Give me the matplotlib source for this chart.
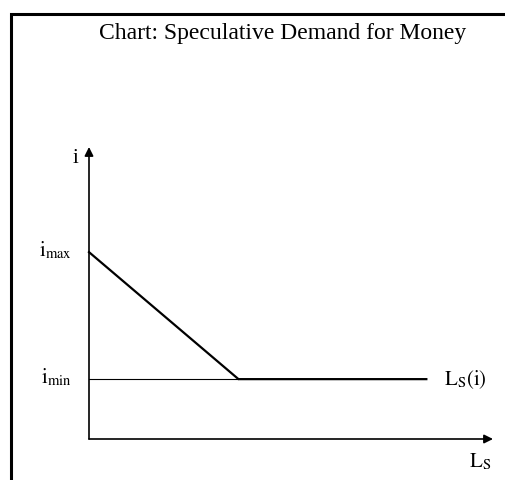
import matplotlib
matplotlib.use("Agg")
import matplotlib.pyplot as plt
from matplotlib.patches import Rectangle

plt.rcParams['font.family'] = ['Liberation Serif', 'DejaVu Serif']
plt.rcParams['mathtext.fontset'] = 'stix'

# speculative demand curve (abstract units, axis runs 0..10)
i_max = 6.4
i_min = 2.05
kink_L = 3.7
end_L = 8.35
curve_L = [0, kink_L, end_L]
curve_i = [i_max, i_min, i_min]
axis_max = 10

title = "Chart: Speculative Demand for Money"

fig = plt.figure(figsize=(5.06, 4.8), dpi=100)
fig.patch.set_facecolor("white")

# outer frame (runs off the right and bottom edges)
fig.patches.append(Rectangle((10.5 / 506, -0.1), 1.2, (480 - 14) / 480 + 0.1,
                             transform=fig.transFigure, fill=False,
                             edgecolor="black", linewidth=2.2))

fig.text(283 / 506, 1 - 34 / 480, title, ha="center", va="center", fontsize=17)

ax = fig.add_axes([89 / 506, 41 / 480, 404 / 506, 292 / 480])
ax.set_xlim(0, axis_max)
ax.set_ylim(0, axis_max)
ax.axis("off")

# axes with arrows
arrow = dict(arrowstyle="-|>", color="black", lw=1.2, mutation_scale=13,
             shrinkA=0, shrinkB=0)
ax.annotate("", xy=(axis_max, 0), xytext=(0, 0), arrowprops=arrow)
ax.annotate("", xy=(0, axis_max), xytext=(0, 0), arrowprops=arrow)

# i_min reference line and the curve
ax.plot([0, kink_L], [i_min, i_min], color="black", lw=0.8, clip_on=False)
ax.plot(curve_L, curve_i, color="black", lw=1.6, clip_on=False,
        solid_joinstyle="miter")

lab = dict(textcoords="offset pixels", fontsize=15, va="baseline")
ax.annotate(r"$\mathrm{i}_{\mathrm{max}}$", xy=(0, i_max), xytext=(-17, -4),
            ha="right", **lab)
ax.annotate(r"$\mathrm{i}_{\mathrm{min}}$", xy=(0, i_min), xytext=(-17, -4),
            ha="right", **lab)
ax.annotate("i", xy=(0, axis_max), xytext=(-14, -16), ha="center", **lab)
ax.annotate(r"$\mathrm{L}_{\mathrm{S}}\mathrm{(i)}$", xy=(end_L, i_min),
            xytext=(18, -6), ha="left", **lab)
ax.annotate(r"$\mathrm{L}_{\mathrm{S}}$", xy=(axis_max, 0), xytext=(-2, -28),
            ha="right", **lab)

fig.savefig("out.png", dpi=100)
